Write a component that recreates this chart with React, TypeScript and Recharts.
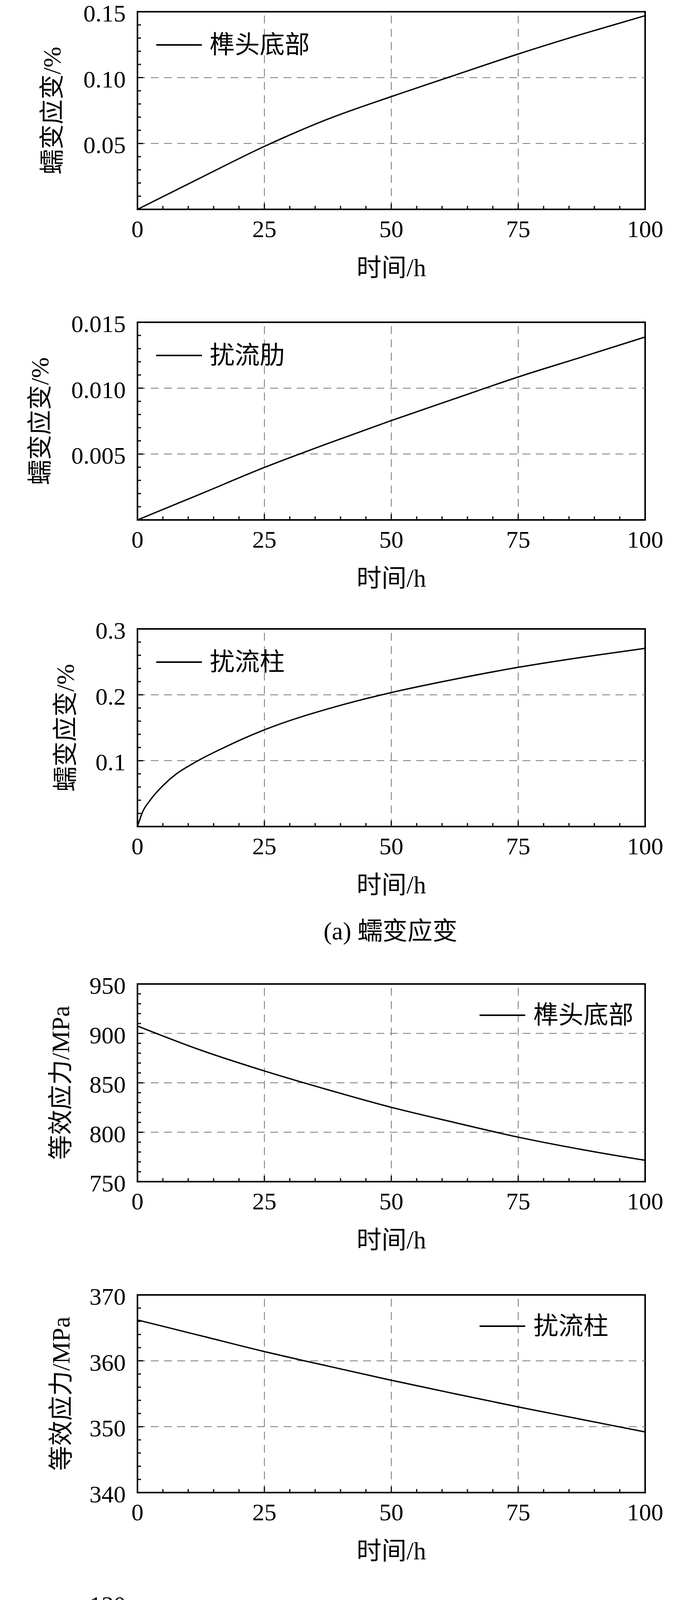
import React from 'react';
import { LineChart, Line, XAxis, YAxis, ReferenceLine, ReferenceArea } from 'recharts';

// time axis (h)
const timeMajor = [0, 25, 50, 75, 100];

// (a) 蠕变应变 / 榫头底部
const headStrainTime = [0, 12.5, 25, 37.5, 50, 62.5, 75, 87.5, 100];
const headStrainValue = [0, 0.0241, 0.0478, 0.0685, 0.0856, 0.1018, 0.1179, 0.1329, 0.147];

// (a) 蠕变应变 / 扰流肋
const ribStrainTime = [0, 12.5, 25, 37.5, 50, 62.5, 75, 87.5, 100];
const ribStrainValue = [0, 0.00198, 0.00398, 0.0058, 0.00754, 0.0092, 0.01085, 0.01236, 0.01388];

// (a) 蠕变应变 / 扰流柱
const pinStrainTime = [0, 1, 2.5, 5, 7.5, 10, 12.5, 17.5, 20, 25, 40, 50, 62.5, 75, 87.5, 100];
const pinStrainValue = [0, 0.022, 0.04, 0.062, 0.079, 0.0915, 0.1024, 0.1215, 0.1305, 0.1468, 0.184, 0.2034, 0.2237, 0.2417, 0.2569, 0.2705];

// (b) 等效应力 / 榫头底部
const headStressTime = [0, 12.5, 25, 37.5, 50, 62.5, 75, 87.5, 100];
const headStressValue = [907.5, 883, 862, 843, 825.2, 809.8, 795, 782.5, 771.6];

// (b) 等效应力 / 扰流柱 (upper)
const pinStressTime = [0, 12.5, 25, 37.5, 50, 62.5, 75, 87.5, 100];
const pinStressValue = [366.2, 363.8, 361.4, 359.2, 357.05, 355.0, 353.0, 351.1, 349.2];

// (b) 等效应力 / 扰流柱 (lower)
const pinStress2Time = [0, 1, 2, 3, 5, 7.5, 10, 15, 20, 25, 30, 40, 50, 60, 75, 87.5, 100];
const pinStress2Value = [120, 115.6, 111.5, 108.3, 104, 100.3, 97.2, 92.4, 88.9, 86.0, 83.8, 80.9, 78.3, 76.5, 74.1, 72.5, 71.2];

const SERIF = "'Liberation Serif', 'Times New Roman', serif";
const MIXED = "'Liberation Serif', 'Noto Sans CJK SC', serif";

const W = 1772;
const H = 800;
const PAD_TOP = 60;
const PLOT_H = 506;
const Y_AXIS_W = 352;
const RIGHT = 120;

const range = (a: number, b: number, s: number) => {
  const out: number[] = [];
  for (let v = a; v <= b + s / 2; v += s) out.push(+v.toFixed(6));
  return out;
};

const isIn = (list: number[], v: number) => list.some((m) => Math.abs(m - v) < 1e-9);

const makeYTick = (major: number[], fmt: (v: number) => string) => (props: any) => {
  const { x, y, payload } = props;
  const big = isIn(major, payload.value);
  return (
    <g>
      <line x1={x} x2={x + (big ? 15 : 9)} y1={y} y2={y} stroke="#000" strokeWidth={3} />
      {big && (
        <text x={x - 30} y={y + 4} textAnchor="end" dominantBaseline="central" fontSize={62} fontFamily={SERIF} fill="#000">
          {fmt(payload.value)}
        </text>
      )}
    </g>
  );
};

const XTick = (props: any) => {
  const { x, y, payload } = props;
  const big = isIn(timeMajor, payload.value);
  return (
    <g>
      <line x1={x} x2={x} y1={y} y2={y - (big ? 15 : 9)} stroke="#000" strokeWidth={3} />
      {big && (
        <text x={x} y={y + 50} textAnchor="middle" dominantBaseline="central" fontSize={62} fontFamily={SERIF} fill="#000">
          {payload.value}
        </text>
      )}
    </g>
  );
};

type PanelProps = {
  top: number;
  time: number[];
  value: number[];
  yMin: number;
  yMax: number;
  yMajor: number[];
  yGrid: number[];
  yStep: number;
  fmt: (v: number) => string;
  yTitle: string;
  yTitleX: number;
  name: string;
  legendRight: boolean;
};

function Panel(p: PanelProps) {
  const data = p.time.map((t, i) => ({ t, v: p.value[i] }));
  const plotLeft = Y_AXIS_W;
  const plotRight = W - RIGHT;
  const legendY = p.top + (p.legendRight ? 80 : 85);
  const lineX = p.legendRight ? 1228 : 400;
  const textX = p.legendRight ? 1366 : 537;
  const textStyle: React.CSSProperties = {
    position: 'absolute',
    fontFamily: MIXED,
    fontSize: 64,
    lineHeight: 1,
    whiteSpace: 'nowrap',
    color: '#000',
  };
  return (
    <>
      <div style={{ position: 'absolute', left: 0, top: p.top - PAD_TOP, width: W, height: H }}>
        <LineChart width={W} height={H} data={data} margin={{ top: PAD_TOP, right: RIGHT, bottom: 0, left: 0 }}>
          <XAxis
            dataKey="t"
            type="number"
            domain={[0, 100]}
            ticks={range(0, 100, 5)}
            interval={0}
            height={H - PAD_TOP - PLOT_H}
            tickSize={0}
            tickMargin={0}
            tickLine={false}
            axisLine={false}
            tick={XTick}
          />
          <YAxis
            type="number"
            domain={[p.yMin, p.yMax]}
            ticks={range(p.yMin, p.yMax, p.yStep)}
            interval={0}
            width={Y_AXIS_W}
            allowDataOverflow
            tickSize={0}
            tickMargin={0}
            tickLine={false}
            axisLine={false}
            tick={makeYTick(p.yMajor, p.fmt)}
          />
          {[25, 50, 75].map((x) => (
            <ReferenceLine key={`vx${x}`} x={x} stroke="#777" strokeWidth={2} strokeDasharray="20 14" />
          ))}
          {p.yGrid.map((y) => (
            <ReferenceLine key={`hy${y}`} y={y} stroke="#777" strokeWidth={2} strokeDasharray="20 14" />
          ))}
          <Line type="monotone" dataKey="v" stroke="#000" strokeWidth={3.5} dot={false} isAnimationActive={false} />
          <ReferenceArea x1={0} x2={100} y1={p.yMin} y2={p.yMax} fill="none" fillOpacity={0} stroke="#000" strokeWidth={4} ifOverflow="visible" />
        </LineChart>
      </div>
      {/* y title */}
      <div
        style={{
          ...textStyle,
          left: p.yTitleX,
          top: p.top + PLOT_H / 2,
          transform: 'translate(-50%, -50%) rotate(-90deg)',
        }}
      >
        {p.yTitle}
      </div>
      {/* x title */}
      <div
        style={{
          ...textStyle,
          left: (plotLeft + plotRight) / 2,
          top: p.top + PLOT_H + 150,
          transform: 'translate(-50%, -50%)',
        }}
      >
        时间/h
      </div>
      {/* legend */}
      <div style={{ position: 'absolute', left: lineX, top: legendY - 2, width: 117, height: 4, background: '#000' }} />
      <div style={{ ...textStyle, left: textX, top: legendY, transform: 'translateY(-50%)' }}>{p.name}</div>
    </>
  );
}

const captionStyle = (top: number): React.CSSProperties => ({
  position: 'absolute',
  left: 1000,
  top,
  transform: 'translate(-50%, -50%)',
  fontFamily: MIXED,
  fontSize: 64,
  lineHeight: 1,
  whiteSpace: 'nowrap',
  color: '#000',
});

export default function App() {
  return (
    <div style={{ position: 'relative', margin: -8, width: W, height: 4913, background: '#fff', overflow: 'hidden' }}>
      <Panel
        top={30}
        time={headStrainTime}
        value={headStrainValue}
        yMin={0}
        yMax={0.15}
        yMajor={[0.05, 0.1, 0.15]}
        yGrid={[0.05, 0.1]}
        yStep={0.01}
        fmt={(v) => v.toFixed(2)}
        yTitle="蠕变应变/%"
        yTitleX={134}
        name="榫头底部"
        legendRight={false}
      />
      <Panel
        top={825}
        time={ribStrainTime}
        value={ribStrainValue}
        yMin={0}
        yMax={0.015}
        yMajor={[0.005, 0.01, 0.015]}
        yGrid={[0.005, 0.01]}
        yStep={0.001}
        fmt={(v) => v.toFixed(3)}
        yTitle="蠕变应变/%"
        yTitleX={103}
        name="扰流肋"
        legendRight={false}
      />
      <Panel
        top={1610}
        time={pinStrainTime}
        value={pinStrainValue}
        yMin={0}
        yMax={0.3}
        yMajor={[0.1, 0.2, 0.3]}
        yGrid={[0.1, 0.2]}
        yStep={0.02}
        fmt={(v) => v.toFixed(1)}
        yTitle="蠕变应变/%"
        yTitleX={168}
        name="扰流柱"
        legendRight={false}
      />
      <div style={captionStyle(2384)}>(a) 蠕变应变</div>
      <Panel
        top={2519}
        time={headStressTime}
        value={headStressValue}
        yMin={750}
        yMax={950}
        yMajor={[750, 800, 850, 900, 950]}
        yGrid={[800, 850, 900]}
        yStep={10}
        fmt={(v) => String(v)}
        yTitle="等效应力/MPa"
        yTitleX={156}
        name="榫头底部"
        legendRight
      />
      <Panel
        top={3315}
        time={pinStressTime}
        value={pinStressValue}
        yMin={340}
        yMax={370}
        yMajor={[340, 350, 360, 370]}
        yGrid={[350, 360]}
        yStep={2}
        fmt={(v) => String(v)}
        yTitle="等效应力/MPa"
        yTitleX={157}
        name="扰流柱"
        legendRight
      />
      <Panel
        top={4104}
        time={pinStress2Time}
        value={pinStress2Value}
        yMin={70}
        yMax={130}
        yMajor={[70, 90, 110, 130]}
        yGrid={[90, 110]}
        yStep={5}
        fmt={(v) => String(v)}
        yTitle="等效应力/MPa"
        yTitleX={155}
        name="扰流柱"
        legendRight
      />
      <div style={captionStyle(4874)}>(b) 等效应力</div>
    </div>
  );
}
